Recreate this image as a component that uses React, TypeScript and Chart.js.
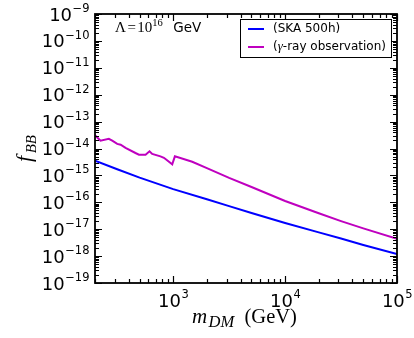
import React, { useEffect, useRef } from "react";
import { Chart, registerables } from "chart.js";

Chart.register(...registerables);

// ---- data ----
const skaMass = [200, 316, 501, 1000, 2000, 3160, 5010, 10000, 20000, 31600, 50000, 100000];
const skaF = [3.5e-15, 1.7e-15, 8.3e-16, 3.1e-16, 1.29e-16, 7.2e-17, 4.0e-17, 1.7e-17, 7.6e-18, 4.5e-18, 2.6e-18, 1.2e-18];

const gammaMass = [200, 224, 266, 285, 316, 339, 375, 460, 494, 566, 614, 649, 769, 826, 980, 1035, 1479, 2000, 3160, 5010, 10000, 20000, 31600, 50000, 100000];
const gammaF = [3.09e-14, 1.95e-14, 2.29e-14, 1.95e-14, 1.48e-14, 1.38e-14, 1.05e-14, 6.8e-15, 5.9e-15, 5.9e-15, 7.9e-15, 6.3e-15, 5.1e-15, 4.5e-15, 2.6e-15, 5.1e-15, 3.2e-15, 1.86e-15, 8.1e-16, 3.7e-16, 1.12e-16, 3.9e-17, 2.0e-17, 1.07e-17, 4.4e-18];

const seriesLabels = ["(SKA 500h)", "(γ-ray observation)"];
const seriesColors = ["#0000ff", "#bf00bf"];

const xMin = 200;
const xMax = 100000;
const yMin = 1e-19;
const yMax = 1e-9;
const xTickExps = [3, 4, 5];
const yTickExps = [-19, -18, -17, -16, -15, -14, -13, -12, -11, -10, -9];

const SANS = '"DejaVu Sans"';
const SERIF = '"Liberation Serif"';

function expStr(e: number) {
  return e < 0 ? "\u2212" + String(-e) : String(e);
}

const decorPlugin = {
  id: "decor",
  afterDatasetsDraw(chart: any) {
    const ctx: CanvasRenderingContext2D = chart.ctx;
    const area = chart.chartArea;
    const xs = chart.scales.x;
    const ys = chart.scales.y;
    ctx.save();
    ctx.fillStyle = "#000";
    ctx.strokeStyle = "#000";

    // ticks
    ctx.lineWidth = 1.2;
    const majL = 7;
    const minL = 4;
    ctx.beginPath();
    for (let e = 2; e <= 5; e++) {
      for (let m = 1; m <= 9; m++) {
        const v = m * Math.pow(10, e);
        if (v < xMin - 1e-9 || v > xMax * 1.0001) continue;
        const px = Math.round(xs.getPixelForValue(v)) + 0.5;
        const L = m === 1 ? majL : minL;
        ctx.moveTo(px, area.bottom);
        ctx.lineTo(px, area.bottom - L);
        ctx.moveTo(px, area.top);
        ctx.lineTo(px, area.top + L);
      }
    }
    for (let e = -19; e <= -9; e++) {
      for (let m = 1; m <= 9; m++) {
        const v = m * Math.pow(10, e);
        if (v < yMin * 0.9999 || v > yMax * 1.0001) continue;
        const py = Math.round(ys.getPixelForValue(v)) + 0.5;
        const L = m === 1 ? majL : minL;
        ctx.moveTo(area.left, py);
        ctx.lineTo(area.left + L, py);
        ctx.moveTo(area.right, py);
        ctx.lineTo(area.right - L, py);
      }
    }
    ctx.stroke();

    // frame
    ctx.lineWidth = 1.8;
    ctx.strokeRect(area.left, area.top, area.right - area.left, area.bottom - area.top);

    // y tick labels
    const mainFont = `18px ${SANS}`;
    const supFont = `11.5px ${SANS}`;
    ctx.textBaseline = "alphabetic";
    ctx.textAlign = "left";
    for (const e of yTickExps) {
      const py = ys.getPixelForValue(Math.pow(10, e));
      ctx.font = mainFont;
      const w1 = ctx.measureText("10").width;
      ctx.font = supFont;
      const s = expStr(e);
      const w2 = ctx.measureText(s).width;
      const right = area.left - 6;
      const x0 = right - w1 - w2;
      ctx.font = mainFont;
      ctx.fillText("10", x0, py + 6.5);
      ctx.font = supFont;
      ctx.fillText(s, x0 + w1 + 0.5, py - 2);
    }
    // x tick labels
    for (const e of xTickExps) {
      const px = xs.getPixelForValue(Math.pow(10, e));
      ctx.font = mainFont;
      const w1 = ctx.measureText("10").width;
      ctx.font = supFont;
      const s = expStr(e);
      const w2 = ctx.measureText(s).width;
      const x0 = px - (w1 + w2) / 2;
      ctx.font = mainFont;
      ctx.fillText("10", x0, area.bottom + 24);
      ctx.font = supFont;
      ctx.fillText(s, x0 + w1 + 0.5, area.bottom + 15);
    }

    // x axis title: m_DM (GeV)
    {
      const cx = (area.left + area.right) / 2;
      const base = 323;
      ctx.font = `italic 21px ${SERIF}`;
      ctx.fillText("m", cx - 54, base);
      ctx.font = `italic 16.5px ${SERIF}`;
      ctx.fillText("DM", cx - 37.5, base + 3.5);
      ctx.font = `20.5px ${SERIF}`;
      ctx.fillText("(GeV)", cx - 1.5, base);
    }

    // y axis title: f_BB
    {
      const cy = (area.top + area.bottom) / 2;
      ctx.save();
      ctx.translate(31, cy);
      ctx.rotate(-Math.PI / 2);
      const fF = `italic 22px ${SERIF}`;
      const fSub = `italic 15px ${SERIF}`;
      ctx.font = fF; const wf = ctx.measureText("f").width + 2.5;
      ctx.font = fSub; const wb = ctx.measureText("BB").width;
      let x = -(wf + wb) / 2;
      ctx.font = fF; ctx.fillText("f", x, 0); x += wf;
      ctx.font = fSub; ctx.fillText("BB", x, 5);
      ctx.restore();
    }

    // annotation Λ = 10^16 GeV
    {
      const base = 31.5;
      let x = area.left + 20;
      ctx.font = `15px ${SERIF}`;
      ctx.fillText("\u039B", x, base); x += ctx.measureText("\u039B").width + 1.5;
      ctx.fillText("=", x, base); x += ctx.measureText("=").width + 1.5;
      ctx.fillText("10", x, base); x += ctx.measureText("10").width;
      ctx.font = `10.5px ${SERIF}`;
      ctx.fillText("16", x, base - 6);
      ctx.font = `13.5px ${SANS}`;
      ctx.fillText("GeV", xs.getPixelForValue(1000), base);
    }

    // legend
    {
      const lx = 240.5, ty = 19.5, rx = 391.5, by = 57.5;
      ctx.fillStyle = "#fff";
      ctx.fillRect(lx, ty, rx - lx, by - ty);
      ctx.strokeStyle = "#000";
      ctx.lineWidth = 1;
      ctx.strokeRect(lx, ty, rx - lx, by - ty);
      const rows = [29, 47];
      for (let i = 0; i < 2; i++) {
        ctx.strokeStyle = seriesColors[i];
        ctx.lineWidth = 2;
        ctx.beginPath();
        ctx.moveTo(248, rows[i]);
        ctx.lineTo(264, rows[i]);
        ctx.stroke();
      }
      ctx.fillStyle = "#000";
      ctx.textBaseline = "middle";
      ctx.font = `12px ${SANS}`;
      ctx.fillText(seriesLabels[0], 273, rows[0]);
      // second label with italic gamma
      let x = 273;
      ctx.fillText("(", x, rows[1]); x += ctx.measureText("(").width;
      ctx.font = `italic 13px ${SERIF}`;
      ctx.fillText("\u03B3", x, rows[1]); x += ctx.measureText("\u03B3").width;
      ctx.font = `12px ${SANS}`;
      ctx.fillText("-ray observation)", x, rows[1]);
    }
    ctx.restore();
  },
};

export default function App() {
  const ref = useRef<HTMLCanvasElement | null>(null);
  useEffect(() => {
    if (!ref.current) return;
    const chart = new Chart(ref.current, {
      type: "line",
      data: {
        datasets: [
          {
            label: seriesLabels[0],
            data: skaMass.map((m, i) => ({ x: m, y: skaF[i] })),
            borderColor: seriesColors[0],
            borderWidth: 2,
            pointRadius: 0,
            fill: false,
            tension: 0,
          },
          {
            label: seriesLabels[1],
            data: gammaMass.map((m, i) => ({ x: m, y: gammaF[i] })),
            borderColor: seriesColors[1],
            borderWidth: 2,
            pointRadius: 0,
            fill: false,
            tension: 0,
          },
        ],
      },
      options: {
        animation: false,
        responsive: false,
        devicePixelRatio: 1,
        layout: { padding: { left: 95, top: 14, right: 17, bottom: 55 } },
        plugins: { legend: { display: false }, tooltip: { enabled: false } },
        scales: {
          x: { type: "logarithmic", min: xMin, max: xMax, display: false },
          y: { type: "logarithmic", min: yMin, max: yMax, display: false },
        },
      },
      plugins: [decorPlugin],
    });
    return () => chart.destroy();
  }, []);
  return (
    <div style={{ position: "absolute", left: 0, top: 0, width: 414, height: 338, background: "#fff" }}>
      <canvas ref={ref} width={414} height={338} style={{ width: 414, height: 338, display: "block" }} />
    </div>
  );
}
